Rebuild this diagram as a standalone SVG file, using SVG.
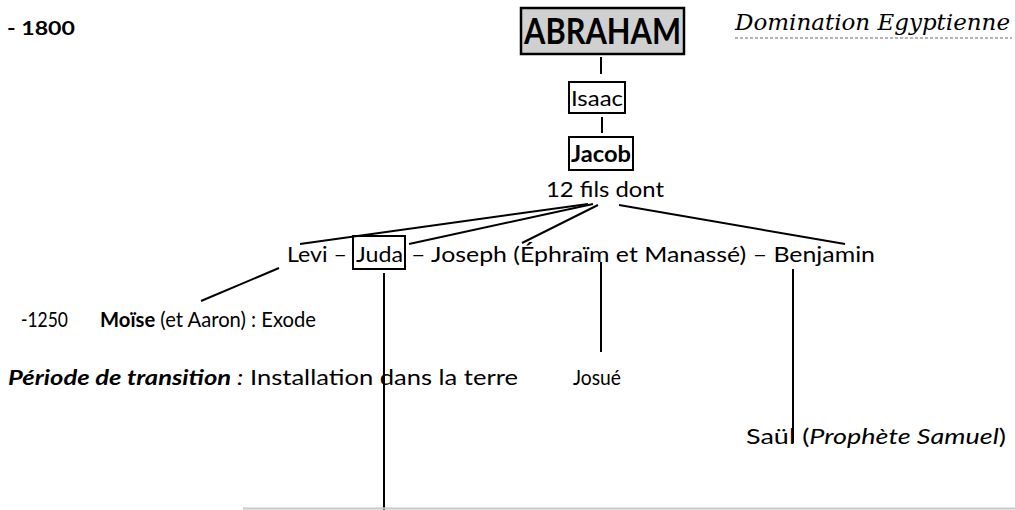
<svg xmlns="http://www.w3.org/2000/svg" width="1015" height="510" viewBox="0 0 1015 510">
<style>
text{font-family:Lato,"Open Sans","Liberation Sans",sans-serif;fill:#000;font-size:21px}
.b{font-weight:bold}
.i{font-style:italic}
.box{fill:#fff;stroke:#000;stroke-width:2}
.c line{stroke:#000;stroke-width:2}
</style>
<rect width="1015" height="510" fill="#fff"/>
<g id="date1800"><text class="b" x="7" y="35" style="font-size:19px" textLength="68" lengthAdjust="spacingAndGlyphs">- 1800</text></g>
<g id="abraham">
<rect x="521" y="8" width="163" height="46" fill="#d0d0d0" stroke="#000" stroke-width="2.5"/>
<text class="b" x="524" y="44" style="font-size:37px" textLength="157" lengthAdjust="spacingAndGlyphs">ABRAHAM</text>
</g>
<g id="domination">
<text x="735" y="30" style="font-family:'DejaVu Serif','Liberation Serif',serif;font-style:italic;font-size:22px" textLength="275" lengthAdjust="spacingAndGlyphs">Domination Egyptienne</text>
<line x1="735" y1="38" x2="1012" y2="38" stroke="#666" stroke-width="1" stroke-dasharray="3,2"/>
</g>
<g id="isaac">
<rect class="box" x="569" y="82" width="56" height="31"/>
<text x="571" y="106" style="font-size:22px" textLength="52" lengthAdjust="spacingAndGlyphs">Isaac</text>
</g>
<g id="jacob">
<rect class="box" x="569" y="137" width="64" height="33"/>
<text class="b" x="571" y="162" style="font-size:22px" textLength="60" lengthAdjust="spacingAndGlyphs">Jacob</text>
</g>
<g id="douzefils"><text x="546" y="197" style="font-size:22px" textLength="118" lengthAdjust="spacingAndGlyphs">12 fils dont</text></g>
<g id="fils">
<text x="287" y="262" style="font-size:22px" textLength="60" lengthAdjust="spacingAndGlyphs">Levi –</text>
<rect class="box" x="353" y="236" width="52" height="33"/>
<text x="356" y="262" style="font-size:22px" textLength="47" lengthAdjust="spacingAndGlyphs">Juda</text>
<text x="411" y="262" style="font-size:22px" textLength="464" lengthAdjust="spacingAndGlyphs">– Joseph (Éphraïm et Manassé) – Benjamin</text>
</g>
<g id="moise">
<text x="21" y="327" textLength="47" lengthAdjust="spacingAndGlyphs">-1250</text>
<text x="100" y="327" textLength="216" lengthAdjust="spacingAndGlyphs"><tspan class="b">Moïse</tspan> (et Aaron) : Exode</text>
</g>
<g id="periode">
<text x="8" y="385" textLength="510" lengthAdjust="spacingAndGlyphs"><tspan class="b i">Période de transition</tspan><tspan class="i"> :</tspan> Installation dans la terre</text>
</g>
<g id="josue"><text x="573" y="385" textLength="48" lengthAdjust="spacingAndGlyphs">Josué</text></g>
<g id="saul"><text x="746" y="444" textLength="260" lengthAdjust="spacingAndGlyphs">Saül  (<tspan class="i">Prophète Samuel</tspan>)</text></g>
<g class="c" id="connectors">
<line x1="601" y1="57" x2="601" y2="74"/>
<line x1="602" y1="117" x2="602" y2="133"/>
<line x1="300" y1="244" x2="588" y2="204"/>
<line x1="409" y1="244" x2="593" y2="204"/>
<line x1="522" y1="243" x2="598" y2="205"/>
<line x1="619" y1="205" x2="845" y2="244"/>
<line x1="279" y1="268" x2="201" y2="301"/>
<line x1="384" y1="273" x2="384" y2="510"/>
<line x1="601" y1="262" x2="601" y2="352"/>
<line x1="793" y1="269" x2="793" y2="443"/>
</g>
<line x1="243" y1="508.5" x2="1015" y2="508.5" stroke="#c8c8c8" stroke-width="2"/>
</svg>
